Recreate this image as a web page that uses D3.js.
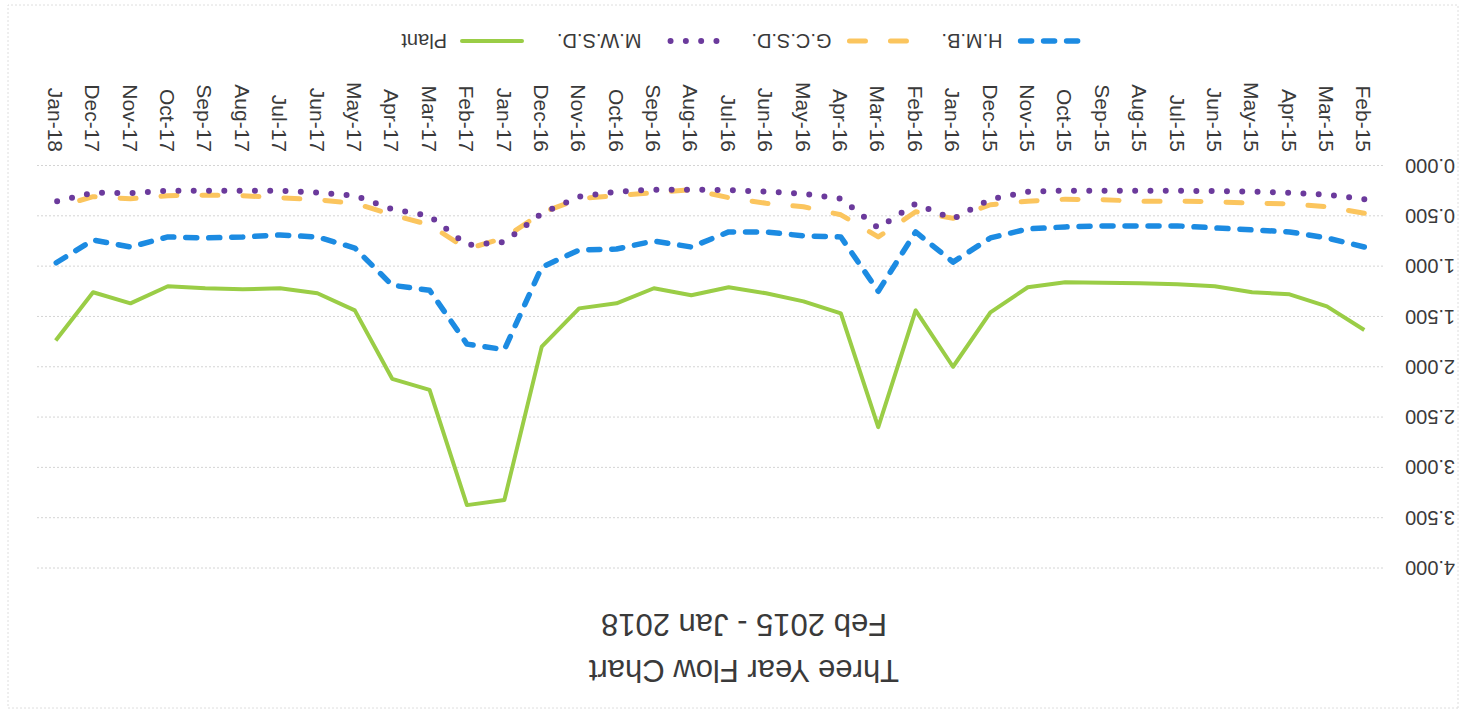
<!DOCTYPE html>
<html>
<head>
<meta charset="utf-8">
<script src="https://cdn.jsdelivr.net/npm/d3@7"></script>
<style>
  html, body { margin: 0; padding: 0; background: #ffffff; }
  svg { display: block; }
  text { font-family: "Liberation Sans", Arial, sans-serif; fill: #3a3a3a; }
</style>
</head>
<body>
<script>
// ---------- data (Feb 2015 - Jan 2018) ----------
const months = ["Feb-15","Mar-15","Apr-15","May-15","Jun-15","Jul-15","Aug-15","Sep-15","Oct-15","Nov-15","Dec-15",
  "Jan-16","Feb-16","Mar-16","Apr-16","May-16","Jun-16","Jul-16","Aug-16","Sep-16","Oct-16","Nov-16","Dec-16",
  "Jan-17","Feb-17","Mar-17","Apr-17","May-17","Jun-17","Jul-17","Aug-17","Sep-17","Oct-17","Nov-17","Dec-17","Jan-18"];

const hmb   = [0.81,0.72,0.66,0.64,0.62,0.60,0.60,0.60,0.61,0.63,0.72,0.96,0.66,1.25,0.71,0.70,0.66,0.66,0.81,0.75,0.83,0.84,1.01,1.83,1.775,1.24,1.19,0.82,0.71,0.69,0.71,0.72,0.71,0.81,0.74,0.97];
const gcsd  = [0.475,0.41,0.38,0.375,0.36,0.355,0.355,0.34,0.335,0.355,0.39,0.525,0.46,0.71,0.49,0.41,0.375,0.32,0.24,0.27,0.30,0.33,0.47,0.72,0.83,0.59,0.49,0.375,0.34,0.32,0.30,0.295,0.30,0.33,0.31,0.415];
const mwsd  = [0.335,0.29,0.27,0.26,0.255,0.25,0.25,0.25,0.25,0.26,0.335,0.53,0.38,0.62,0.33,0.28,0.26,0.245,0.24,0.24,0.26,0.31,0.475,0.76,0.79,0.50,0.435,0.30,0.27,0.25,0.25,0.25,0.25,0.275,0.27,0.36];
const plant = [1.635,1.40,1.28,1.26,1.20,1.18,1.17,1.165,1.16,1.21,1.46,2.0,1.44,2.60,1.47,1.35,1.27,1.21,1.29,1.22,1.37,1.42,1.80,3.325,3.375,2.23,2.12,1.44,1.27,1.22,1.23,1.22,1.20,1.37,1.26,1.74];

const seriesNames = ["H.M.B.","G.C.S.D.","M.W.S.D.","Plant"];
const seriesValues = [hmb, gcsd, mwsd, plant];
const yTicks = [0,0.5,1,1.5,2,2.5,3,3.5,4];
const titleLines = ["Three Year Flow Chart","Feb 2015 - Jan 2018"];

// ---------- styles ----------
const styles = {
  "H.M.B.":   {color:"#1c8be2", width:5.5, dash:"11,12", cap:"round"},
  "G.C.S.D.": {color:"#fbc55e", width:5,   dash:"16,25", cap:"round"},
  "M.W.S.D.": {color:"#6b3a9c", width:6,   dash:"0,15.3", cap:"round"},
  "Plant":    {color:"#9acd46", width:4,   dash:null,    cap:"butt"}
};

const W = 1466, H = 713;
const svg = d3.select("body").append("svg").attr("width", W).attr("height", H);
svg.append("rect").attr("width", W).attr("height", H).attr("fill", "#fff");

// whole chart is photographed upside down
const g = svg.append("g").attr("transform", `rotate(180 ${W/2} ${H/2})`);

// chart border
g.append("rect").attr("x", 8).attr("y", 5).attr("width", 1450).attr("height", 703)
  .attr("fill", "none").attr("stroke", "#dedede").attr("stroke-dasharray", "2,2");

const plotL = 83, plotR = 1429, plotB = 547.5, plotT = 145;
const x = d3.scalePoint().domain(months).range([plotL, plotR]).padding(0.5);
const y = d3.scaleLinear().domain([0, 4]).range([plotB, plotT]);

// gridlines
g.append("g").selectAll("line").data(yTicks).join("line")
  .attr("x1", plotL).attr("x2", plotR)
  .attr("y1", d => y(d)).attr("y2", d => y(d))
  .attr("stroke", "#d4d4d4").attr("stroke-width", 1).attr("stroke-dasharray", "2,2");

// y axis
const yAxis = g.append("g").attr("transform", `translate(${plotL},0)`)
  .call(d3.axisLeft(y).tickValues(yTicks).tickFormat(d3.format(".3f")).tickSize(0).tickPadding(22));
yAxis.select(".domain").remove();
yAxis.selectAll("text").style("font-size", "20px").style("font-family", "'Liberation Sans', Arial, sans-serif").attr("fill", "#3a3a3a");

// x axis
const xAxis = g.append("g").attr("transform", `translate(0,${plotB})`)
  .call(d3.axisBottom(x).tickSize(0));
xAxis.select(".domain").remove();
xAxis.selectAll("text")
  .attr("transform", "rotate(-90)")
  .attr("x", -13.5).attr("y", 0).attr("dy", "0.35em")
  .style("text-anchor", "end")
  .style("font-size", "21px").style("font-family", "'Liberation Sans', Arial, sans-serif")
  .attr("fill", "#3a3a3a");

// lines
const line = d3.line().x((d, i) => x(months[i])).y(d => y(d));
seriesNames.forEach((name, k) => {
  const s = styles[name];
  g.append("path").datum(seriesValues[k])
    .attr("d", line)
    .attr("fill", "none")
    .attr("stroke", s.color)
    .attr("stroke-width", s.width)
    .attr("stroke-linecap", s.cap)
    .attr("stroke-linejoin", "round")
    .attr("stroke-dasharray", s.dash);
});

// legend
const legY = 672, sampleLen = 66, sampleGap = 12, itemGap = 32, legCenter = 725;
const leg = g.append("g");
let cx = 0;
seriesNames.forEach(name => {
  const s = styles[name];
  const it = leg.append("g").attr("transform", `translate(${cx},0)`);
  it.append("line").attr("x1", 3).attr("x2", sampleLen - 3).attr("y1", legY).attr("y2", legY)
    .attr("stroke", s.color).attr("stroke-width", s.width)
    .attr("stroke-linecap", s.cap === "butt" ? "round" : s.cap)
    .attr("stroke-dasharray", s.dash);
  const t = it.append("text").attr("x", sampleLen + sampleGap).attr("y", legY).attr("dy", "0.35em")
    .style("font-size", "20px").text(name);
  cx += sampleLen + sampleGap + t.node().getComputedTextLength() + itemGap;
});
const legW = cx - itemGap;
leg.attr("transform", `translate(${legCenter - legW / 2},0)`);

// title
g.append("text").attr("x", 722).attr("y", 53).attr("text-anchor", "middle")
  .style("font-size", "31px").text(titleLines[0]);
g.append("text").attr("x", 722).attr("y", 99.5).attr("text-anchor", "middle")
  .style("font-size", "31px").text(titleLines[1]);
</script>
</body>
</html>
